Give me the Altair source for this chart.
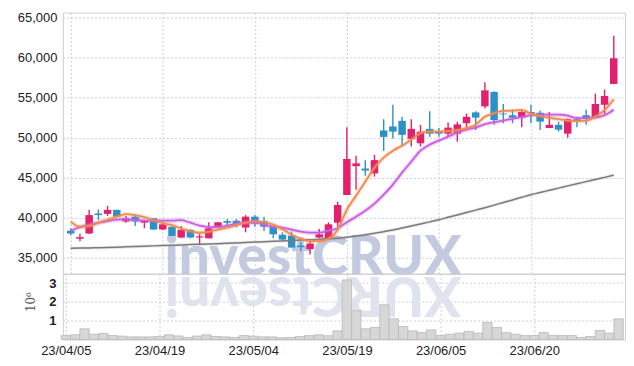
import altair as alt
import pandas as pd

dates = [
    "23/04/05", "23/04/06", "23/04/07", "23/04/10", "23/04/11", "23/04/12", "23/04/13", "23/04/14",
    "23/04/17", "23/04/18", "23/04/19", "23/04/20", "23/04/21", "23/04/24", "23/04/25", "23/04/26",
    "23/04/27", "23/04/28", "23/05/02", "23/05/03", "23/05/04", "23/05/08", "23/05/09", "23/05/10",
    "23/05/11", "23/05/12", "23/05/15", "23/05/16", "23/05/17", "23/05/18", "23/05/19", "23/05/22",
    "23/05/23", "23/05/24", "23/05/25", "23/05/26", "23/05/30", "23/05/31", "23/06/01", "23/06/02",
    "23/06/05", "23/06/07", "23/06/08", "23/06/09", "23/06/12", "23/06/13", "23/06/14", "23/06/15",
    "23/06/16", "23/06/19", "23/06/20", "23/06/21", "23/06/22", "23/06/23", "23/06/26", "23/06/27",
    "23/06/28", "23/06/29", "23/06/30", "23/07/03",
]
opens = [38400, 37400, 38050, 40550, 40500, 41000, 39550, 40150, 39400, 39950,
         38550, 38900, 37550, 38500, 37550, 37450, 38800, 39600, 39650, 38800,
         40150, 39600, 38900, 37900, 37800, 36550, 36100, 37550, 37350, 39400,
         42850, 46450, 46150, 45550, 50900, 51400, 52100, 49850, 49300, 51100,
         50750, 50500, 50500, 51800, 53150, 53900, 55700, 53000, 52800, 52500,
         53200, 53100, 51200, 51600, 50500, 52300, 52800, 52500, 54100, 56700]
highs = [38700, 38000, 41000, 41050, 41500, 41000, 40250, 40350, 39650, 39950,
         39500, 38900, 39000, 38600, 38050, 39450, 39500, 39850, 39850, 40350,
         40350, 40150, 38900, 38200, 38300, 36950, 37050, 38600, 39450, 42000,
         51300, 47750, 47200, 47850, 52300, 54100, 52600, 52300, 51600, 53300,
         51200, 51900, 52000, 53000, 53300, 56900, 55800, 54200, 53500, 53500,
         54100, 53400, 53200, 52000, 52400, 52600, 53500, 55500, 56000, 62700]
lows = [37850, 37100, 38000, 39750, 40250, 40150, 39400, 39000, 38700, 38500,
        38500, 37750, 37450, 37450, 36600, 37450, 38700, 39050, 38800, 38200,
        38900, 38350, 37450, 37150, 36300, 35850, 35450, 37450, 37350, 38900,
        42850, 43500, 45250, 45150, 48350, 49900, 48900, 48900, 48900, 50100,
        50100, 50100, 49500, 51150, 50950, 53650, 51600, 51800, 51800, 51300,
        51800, 50950, 51200, 50750, 50000, 51300, 51600, 52500, 52950, 56700]
closes = [38050, 37600, 40350, 40350, 41000, 40150, 39950, 39550, 39650, 38550,
          39200, 37750, 38500, 37550, 37700, 38700, 39450, 39400, 39100, 40150,
          39300, 38900, 37950, 37300, 36300, 36350, 36800, 37950, 39200, 41600,
          47350, 46800, 45900, 47200, 50100, 50750, 50350, 51100, 50750, 50500,
          50500, 51250, 51650, 52600, 52500, 55900, 52200, 52900, 52500, 53200,
          53000, 52000, 51600, 51000, 52300, 52000, 52400, 54200, 55200, 59900]
volume_m = [0.21, 0.25, 0.57, 0.28, 0.32, 0.21, 0.18, 0.14, 0.14, 0.14,
            0.16, 0.25, 0.19, 0.11, 0.18, 0.25, 0.16, 0.14, 0.11, 0.21,
            0.18, 0.14, 0.14, 0.09, 0.11, 0.16, 0.21, 0.25, 0.20, 0.46,
            3.17, 1.53, 0.57, 0.64, 1.85, 1.10, 0.69, 0.46, 0.37, 0.51,
            0.21, 0.28, 0.34, 0.43, 0.34, 0.90, 0.64, 0.37, 0.28, 0.21,
            0.21, 0.37, 0.21, 0.21, 0.21, 0.11, 0.16, 0.48, 0.34, 1.10]
ma5 = [39530, 38900, 38970, 39400, 39770, 40150, 40460, 40330, 40090, 39710,
       39340, 39090, 38650, 38340, 38150, 38270, 38530, 38780, 39090, 39400,
       39590, 39460, 39150, 38590, 37900, 37400, 37090, 37090, 37400, 38530,
       41020, 42770, 44510, 46260, 47510, 48380, 49000, 49750, 50560, 50750,
       50750, 50810, 50940, 51180, 51620, 52620, 53050, 53330, 53360, 53430,
       53000, 52690, 52490, 52310, 52120, 52060, 52120, 52620, 53430, 54800]
ma20 = [38400, 38840, 39150, 39400, 39590, 39770, 39840, 39710, 39650, 39650,
        39650, 39650, 39710, 39400, 39030, 38840, 38840, 39030, 39280, 39400,
        39400, 39150, 38900, 38780, 38530, 38280, 38160, 38160, 38400, 38710,
        39460, 40150, 40890, 41770, 42890, 44140, 45640, 47010, 48380, 49130,
        49630, 50130, 50620, 51000, 51250, 51680, 51930, 52120, 52370, 52560,
        52810, 52870, 52870, 52870, 52740, 52430, 52430, 52490, 52810, 53490]
ma60 = [36200, 36230, 36260, 36290, 36320, 36350, 36390, 36430, 36470, 36510,
        36550, 36590, 36630, 36670, 36710, 36750, 36790, 36830, 36880, 36930,
        36980, 37030, 37080, 37130, 37180, 37230, 37280, 37340, 37400, 37470,
        37580, 37730, 37900, 38080, 38280, 38490, 38740, 38990, 39240, 39500,
        39770, 40070, 40370, 40670, 40970, 41270, 41590, 41920, 42240, 42570,
        42890, 43160, 43440, 43710, 43990, 44260, 44520, 44790, 45050, 45320]
price_ticks = [35000, 40000, 45000, 50000, 55000, 60000, 65000]
volume_ticks = [1, 2, 3]
date_tick_idx = [0, 10, 20, 30, 40, 50]
watermark = ["investCRUX"]

UP, DOWN = "#e3206b", "#2c91c7"
GRID = "#c9cde0"
FONT = "Liberation Sans"

df = pd.DataFrame({
    "idx": list(range(len(dates))), "date": dates, "open": opens, "high": highs,
    "low": lows, "close": closes, "vol": volume_m, "ma5": ma5, "ma20": ma20, "ma60": ma60,
})

x_scale = alt.Scale(domain=[-0.32, 59.68], nice=False, zero=False)
label_expr = "[" + ",".join("'%s'" % d for d in dates) + "][datum.value]"

x_axis_top = alt.Axis(values=date_tick_idx, labels=False, ticks=False, domain=False, title=None,
                      grid=True, gridColor=GRID, gridDash=[2, 2], maxExtent=0, minExtent=0)
x_axis_bottom = alt.Axis(values=date_tick_idx, labelExpr=label_expr, ticks=False, domain=False,
                         title=None, grid=True, gridColor=GRID, gridDash=[2, 2], labelPadding=5,
                         labelFontSize=13, labelColor="#222", labelFont=FONT)

y_scale = alt.Scale(domain=[33040, 65600], nice=False, zero=False)
y_axis = alt.Axis(values=price_ticks, format=",d", ticks=False, domain=False, title=None,
                  grid=True, gridColor=GRID, gridDash=[2, 2], labelPadding=6, minExtent=54,
                  maxExtent=54, labelFontSize=13, labelColor="#222", labelFont=FONT)

base = alt.Chart(df).transform_calculate(dir="datum.close >= datum.open ? 'up' : 'down'")
color = alt.Color("dir:N", scale=alt.Scale(domain=["up", "down"], range=[UP, DOWN]), legend=None)

wm = alt.Chart(pd.DataFrame({"t": watermark})).mark_text(
    font="Lato", fontWeight=900, fontSize=55, color="#c3c9de", baseline="alphabetic", align="center"
).encode(text="t:N", x=alt.value(251), y=alt.value(263))

wicks = base.mark_rule(strokeWidth=1.4).encode(
    x=alt.X("idx:Q", scale=x_scale, axis=x_axis_top),
    y=alt.Y("low:Q", scale=y_scale, axis=y_axis),
    y2="high:Q", color=color)
bodies = base.mark_bar(size=7.5).encode(
    x=alt.X("idx:Q", scale=x_scale), y=alt.Y("open:Q", scale=y_scale), y2="close:Q", color=color)

def ma_line(field, col, width=1.8, halo_w=4.5, halo_op=0.25):
    halo = alt.Chart(df).mark_line(color=col, strokeWidth=halo_w, opacity=halo_op,
                                   interpolate="monotone").encode(
        x=alt.X("idx:Q", scale=x_scale), y=alt.Y(field + ":Q", scale=y_scale))
    line = alt.Chart(df).mark_line(color=col, strokeWidth=width, interpolate="monotone").encode(
        x=alt.X("idx:Q", scale=x_scale), y=alt.Y(field + ":Q", scale=y_scale))
    return halo + line

price = alt.layer(wm, wicks, bodies, ma_line("ma60", "#7a7a7a", 1.5, 3.5, 0.15),
                  ma_line("ma20", "#c95de6"), ma_line("ma5", "#ef8a50")
                  ).properties(width=564, height=262)

refl = alt.Chart(pd.DataFrame({"t": [watermark[0][::-1]]})).mark_text(
    font="Lato", fontWeight=900, fontSize=55, color="#e0e3ed", baseline="alphabetic", align="center",
    angle=180
).encode(text="t:N", x=alt.value(251), y=alt.value(3))

vol_bars = alt.Chart(df).transform_calculate(x0="datum.idx - 0.5", x1="datum.idx + 0.5").mark_rect(
    color="#d7d7d7", stroke="#b9b9b9", strokeWidth=0.8
).encode(
    x=alt.X("x0:Q", scale=x_scale, axis=x_axis_bottom), x2="x1:Q",
    y=alt.Y("vol:Q", scale=alt.Scale(domain=[0, 3.5], nice=False),
            axis=alt.Axis(values=volume_ticks, format="d", ticks=False, domain=False, title="10⁶",
                          titleFontSize=12, titleFontWeight="normal", titleColor="#555",
                          titleFont="DejaVu Serif", titlePadding=11, labelPadding=7, titleY=28,
                          grid=True, gridColor=GRID, gridDash=[2, 2], labelFontSize=13,
                          labelColor="#222", labelFont=FONT, labelFontWeight="bold")),
    y2=alt.datum(0))

volume = alt.layer(refl, vol_bars).properties(width=564, height=66)

chart = alt.vconcat(price, volume, spacing=0, bounds="flush").properties(
    padding={"left": 0, "top": 2, "right": 0, "bottom": 0}
).configure_view(stroke="#cfcfcf")

chart.save("out.html", embed_options={"renderer": "svg", "actions": False})
